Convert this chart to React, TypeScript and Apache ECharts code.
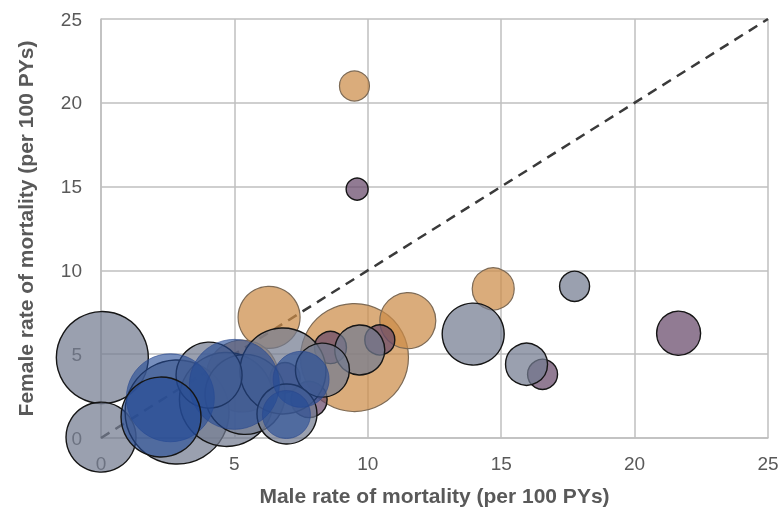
import React, { useEffect, useRef } from "react";
import * as echarts from "echarts";

// Male rate, female rate, bubble radius (relative size) per group
const orangeMale = [9.5, 14.7, 9.5, 11.5, 6.3, 5.3];
const orangeFemale = [21.0, 8.9, 4.8, 7.0, 7.2, 3.7];
const orangeSize = [15, 21, 54, 28, 31, 36];

const purpleMale = [9.6, 21.65, 16.55, 10.45, 8.6, 7.8, 6.9];
const purpleFemale = [14.85, 6.25, 3.8, 5.85, 5.4, 2.3, 3.6];
const purpleSize = [11, 22, 15, 15, 16, 18, 15];

const grayMale = [0.05, 0.0, 17.75, 13.95, 15.95, 9.7, 2.85, 4.7, 5.4, 6.82, 8.3, 6.97, 4.05];
const grayFemale = [4.8, 0.05, 9.05, 6.2, 4.4, 5.25, 1.55, 2.3, 2.6, 4.0, 4.05, 1.43, 3.75];
const graySize = [46, 35, 15, 31, 21, 25, 52, 47, 40, 43, 27, 30, 33];

const blueMale = [2.6, 5.0, 7.5, 2.25, 6.95];
const blueFemale = [2.4, 3.2, 3.5, 1.25, 1.4];
const blueSize = [44, 45, 28, 40, 24];

const blueBorder = [0, 0, 0, 1, 0];

const ticks = [0, 5, 10, 15, 20, 25];

function build(m: number[], f: number[], s: number[]) {
  return m.map((x, i) => [x, f[i], s[i]]);
}

export default function App() {
  const ref = useRef<HTMLDivElement>(null);
  useEffect(() => {
    if (!ref.current) return;
    const chart = echarts.init(ref.current, null, { renderer: "svg" });
    const font = "'Liberation Sans', Arial, sans-serif";
    const axisLabel = { color: "#595959", fontSize: 19, fontFamily: font };
    const common = {
      min: ticks[0],
      max: ticks[ticks.length - 1],
      interval: 5,
      axisLine: { show: true, lineStyle: { color: "#bfbfbf", width: 1.5 } },
      axisTick: { show: false },
      splitLine: { show: true, lineStyle: { color: "#bfbfbf", width: 1.5 } },
      nameTextStyle: { color: "#595959", fontSize: 21, fontWeight: "bold", fontFamily: font },
    };
    chart.setOption({
      animation: false,
      grid: { left: 101, right: 12, top: 19, bottom: 70, outerBoundsMode: "none", containLabel: false },
      xAxis: {
        type: "value",
        ...common,
        name: "Male rate of mortality (per 100 PYs)",
        nameLocation: "middle",
        nameGap: 47,
        axisLabel: { ...axisLabel, margin: 16 },
      },
      yAxis: {
        type: "value",
        ...common,
        name: "Female rate of mortality (per 100 PYs)",
        nameLocation: "middle",
        nameGap: 65,
        axisLabel: { ...axisLabel, margin: 19 },
      },
      series: [
        {
          type: "line",
          data: [[ticks[0], ticks[0]], [ticks[5], ticks[5]]],
          symbol: "none",
          lineStyle: { color: "#3a3a3a", width: 2.5, type: [10, 7] },
          z: 1,
        },
        {
          type: "scatter",
          data: build(orangeMale, orangeFemale, orangeSize),
          symbolSize: (v: number[]) => v[2] * 2,
          itemStyle: { color: "rgba(204,140,72,0.72)", borderColor: "#7d6a55", borderWidth: 1.2, opacity: 1 },
          z: 2,
        },
        {
          type: "scatter",
          data: build(purpleMale, purpleFemale, purpleSize),
          symbolSize: (v: number[]) => v[2] * 2,
          itemStyle: { color: "rgba(102,72,106,0.72)", borderColor: "#151515", borderWidth: 1.4, opacity: 1 },
          z: 3,
        },
        {
          type: "scatter",
          data: build(grayMale, grayFemale, graySize),
          symbolSize: (v: number[]) => v[2] * 2,
          itemStyle: { color: "rgba(115,124,144,0.72)", borderColor: "#151515", borderWidth: 1.4, opacity: 1 },
          z: 4,
        },
        {
          type: "scatter",
          data: build(blueMale, blueFemale, blueSize).map((d, i) => ({
            value: d,
            itemStyle: blueBorder[i]
              ? { borderColor: "#151515", borderWidth: 1.4 }
              : { borderColor: "rgba(40,70,140,0.6)", borderWidth: 1 },
          })),
          symbolSize: (v: number[]) => v[2] * 2,
          itemStyle: { color: "rgba(35,75,150,0.62)", opacity: 1 },
          z: 5,
        },
      ],
    });
    return () => chart.dispose();
  }, []);
  return (
    <div
      ref={ref}
      style={{ position: "fixed", left: 0, top: 0, width: 780, height: 508 }}
    />
  );
}
